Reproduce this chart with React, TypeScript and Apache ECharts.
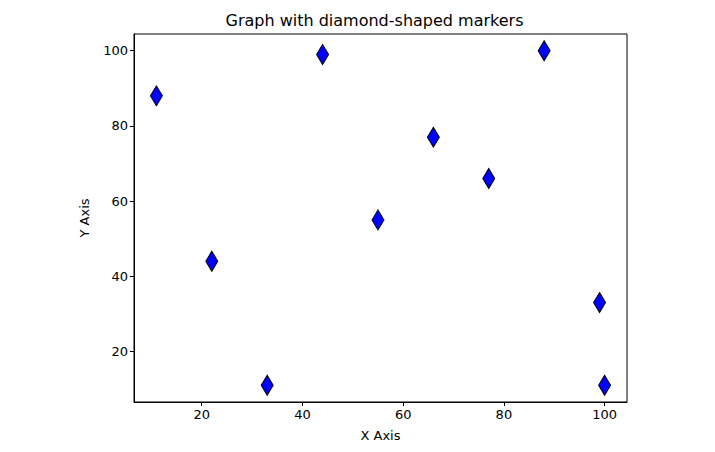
import React, { useEffect, useRef } from "react";
import * as echarts from "echarts";

const xValues = [11, 22, 33, 44, 55, 66, 77, 88, 99, 100];
const yValues = [88, 44, 11, 99, 55, 77, 66, 100, 33, 11];
const xTicks = [20, 40, 60, 80, 100];
const yTicks = [20, 40, 60, 80, 100];

const FONT = "DejaVu Sans";

export default function App() {
  const ref = useRef<HTMLDivElement>(null);
  useEffect(() => {
    if (!ref.current) return;
    const chart = echarts.init(ref.current, null, { renderer: "svg" });
    const data = xValues.map((x, i) => [x, yValues[i]]);
    chart.setOption({
      animation: false,
      backgroundColor: "#ffffff",
      textStyle: { fontFamily: FONT },
      grid: {
        left: 134,
        right: 88,
        top: 34,
        bottom: 50,
        show: true,
        borderColor: "#000000",
        borderWidth: 1,
        backgroundColor: "transparent",
      },
      graphic: [
        {
          type: "text",
          left: 380.5 - 155,
          top: 12,
          style: {
            text: "Graph with diamond-shaped markers",
            fontFamily: FONT,
            fontSize: 16,
            fill: "#000",
            width: 310,
            align: "center",
          },
        },
      ],
      xAxis: {
        type: "value",
        min: 6.55,
        max: 104.45,
        name: "X Axis",
        nameLocation: "middle",
        nameGap: 27,
        nameTextStyle: { fontFamily: FONT, fontSize: 13, color: "#000" },
        axisLine: { show: true, lineStyle: { color: "#000", width: 1 } },
        axisTick: {
          show: true,
          length: 4,
          customValues: xTicks,
          lineStyle: { color: "#000" },
        },
        axisLabel: {
          customValues: xTicks,
          fontFamily: FONT,
          fontSize: 13,
          color: "#000",
          margin: 6,
        },
        splitLine: { show: false },
      },
      yAxis: {
        type: "value",
        min: 6.55,
        max: 104.45,
        name: "Y Axis",
        nameLocation: "middle",
        nameGap: 43,
        nameTextStyle: { fontFamily: FONT, fontSize: 13, color: "#000" },
        axisLine: { show: true, lineStyle: { color: "#000", width: 1 } },
        axisTick: {
          show: true,
          length: 4,
          customValues: yTicks,
          lineStyle: { color: "#000" },
        },
        axisLabel: {
          customValues: yTicks,
          fontFamily: FONT,
          fontSize: 13,
          color: "#000",
          margin: 6,
        },
        splitLine: { show: false },
      },
      series: [
        {
          type: "scatter",
          data,
          symbol: "diamond",
          symbolSize: [12, 20],
          itemStyle: {
            color: "#0000ff",
            opacity: 1,
            borderColor: "#000000",
            borderWidth: 1,
          },
        },
      ],
    });
    return () => chart.dispose();
  }, []);
  return (
    <div
      ref={ref}
      style={{ position: "absolute", left: 0, top: 0, width: 715, height: 452 }}
    />
  );
}
